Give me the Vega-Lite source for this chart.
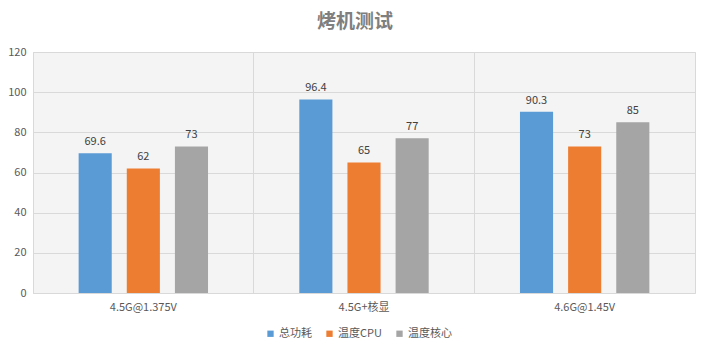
{
  "$schema": "https://vega.github.io/schema/vega-lite/v6.json",
  "width": 662,
  "height": 241,
  "autosize": "none",
  "padding": {"left": 33, "top": 52, "right": 13, "bottom": 59},
  "background": "white",
  "title": {
    "text": "烤机测试",
    "font": "Noto Sans CJK SC",
    "fontSize": 19,
    "fontWeight": "bold",
    "color": "#7f7f7f",
    "anchor": "middle",
    "frame": "group",
    "dx": -9,
    "offset": 14
  },
  "data": {
    "values": [
      {"cfg": "4.5G@1.375V", "series": "总功耗", "value": 69.6},
      {"cfg": "4.5G@1.375V", "series": "温度CPU", "value": 62},
      {"cfg": "4.5G@1.375V", "series": "温度核心", "value": 73},
      {"cfg": "4.5G+核显", "series": "总功耗", "value": 96.4},
      {"cfg": "4.5G+核显", "series": "温度CPU", "value": 65},
      {"cfg": "4.5G+核显", "series": "温度核心", "value": 77},
      {"cfg": "4.6G@1.45V", "series": "总功耗", "value": 90.3},
      {"cfg": "4.6G@1.45V", "series": "温度CPU", "value": 73},
      {"cfg": "4.6G@1.45V", "series": "温度核心", "value": 85}
    ]
  },
  "encoding": {
    "x": {
      "field": "cfg",
      "type": "nominal",
      "sort": ["4.5G@1.375V", "4.5G+核显", "4.6G@1.45V"],
      "scale": {"paddingInner": 0, "paddingOuter": 0},
      "axis": {
        "title": null,
        "labelAngle": 0,
        "labelFont": "Noto Sans CJK SC",
        "labelFontSize": 11,
        "labelColor": "#595959",
        "labelPadding": 8,
        "ticks": false,
        "domain": false,
        "grid": true,
        "gridColor": "#d9d9d9",
        "bandPosition": 0
      }
    },
    "xOffset": {
      "field": "series",
      "type": "nominal",
      "sort": ["总功耗", "温度CPU", "温度核心"],
      "scale": {"paddingInner": 0.3125, "paddingOuter": 0.948}
    },
    "y": {
      "field": "value",
      "type": "quantitative",
      "scale": {"domain": [0, 120]},
      "axis": {
        "title": null,
        "values": [0, 20, 40, 60, 80, 100, 120],
        "labelFont": "Noto Sans CJK SC",
        "labelFontSize": 11,
        "labelColor": "#595959",
        "labelPadding": 7,
        "ticks": false,
        "domain": false,
        "gridColor": "#d9d9d9"
      }
    }
  },
  "layer": [
    {
      "mark": {"type": "bar"},
      "encoding": {
        "color": {
          "field": "series",
          "type": "nominal",
          "sort": ["总功耗", "温度CPU", "温度核心"],
          "scale": {"domain": ["总功耗", "温度CPU", "温度核心"], "range": ["#5B9BD5", "#ED7D31", "#A5A5A5"]},
          "legend": {
            "title": null,
            "orient": "none",
            "direction": "horizontal",
            "legendX": 232,
            "legendY": 276,
            "symbolType": "square",
            "symbolSize": 40,
            "symbolStrokeWidth": 0,
            "labelFont": "Noto Sans CJK SC",
            "labelFontSize": 11,
            "labelColor": "#595959",
            "labelOffset": 3,
            "columnPadding": 12
          }
        }
      }
    },
    {
      "mark": {"type": "text", "dy": -11, "font": "Noto Sans CJK SC", "fontSize": 11, "color": "#404040"},
      "encoding": {"text": {"field": "value", "type": "quantitative"}}
    }
  ],
  "config": {
    "view": {"stroke": "#d9d9d9", "fill": "#f4f4f4"}
  }
}
